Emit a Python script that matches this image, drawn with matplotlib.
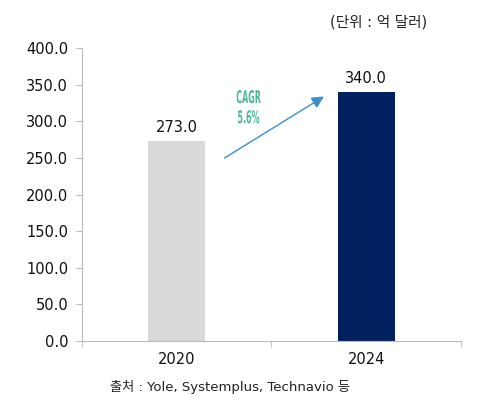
import matplotlib
matplotlib.use("Agg")
import matplotlib.pyplot as plt
import matplotlib.transforms as mtransforms
from matplotlib.textpath import TextPath
from matplotlib.patches import PathPatch
from matplotlib.font_manager import FontProperties

years = ["2020", "2024"]
values = [273.0, 340.0]
bar_colors = ["#D9D9D9", "#002060"]
yticks = [0, 50, 100, 150, 200, 250, 300, 350, 400]
cagr_lines = ["CAGR", "5.6%"]
unit_text = "(단위 : 억 달러)"
source_text = "출처 : Yole, Systemplus, Technavio 등"

plt.rcParams['font.family'] = ['DejaVu Sans', 'Noto Sans CJK KR']

fig = plt.figure(figsize=(4.81, 4.08), dpi=100)
ax = fig.add_axes([0.1705, 0.164, 0.7875, 0.718])

x = range(len(years))
ax.bar(x, values, width=0.3, color=bar_colors)
for i, v in zip(x, values):
    ax.text(i, v + 8, "%.1f" % v, ha="center", va="bottom", fontsize=10.5, color="#111111")

ax.set_xlim(-0.5, 1.5)
ax.set_ylim(0, 400)
ax.set_yticks(yticks)
ax.set_yticklabels(["%.1f" % t for t in yticks], fontsize=10.5, color="#111111")
ax.set_xticks(list(x))
ax.set_xticklabels(years, fontsize=10.5, color="#111111")
ax.set_xticks([-0.5, 0.5, 1.5], minor=True)
ax.tick_params(axis="x", which="major", length=0, pad=8)
ax.tick_params(axis="x", which="minor", length=4, color="#BBBBBB", direction="out")
ax.tick_params(axis="y", length=4, color="#BBBBBB", pad=6)
for s in ["top", "right"]:
    ax.spines[s].set_visible(False)
ax.spines["left"].set_color("#BBBBBB")
ax.spines["bottom"].set_color("#BBBBBB")

ax.annotate("", xy=(0.79, 336), xytext=(0.24, 248),
            arrowprops=dict(arrowstyle="-|>", color="#3A8FCF", lw=1.0, mutation_scale=18))

# condensed CAGR label (no narrow font installed, so squeeze a text path)
prop = FontProperties(family="DejaVu Sans", weight="bold")
sx = 0.5
for k, line in enumerate(cagr_lines):
    tp = TextPath((0, 0), line, size=11.5, prop=prop)
    bb = tp.get_extents()
    yy = 325 - k * 27.5
    tr = (mtransforms.Affine2D().translate(-(bb.x0 + bb.x1) / 2, 0).scale(sx / 72.0, 1.1 / 72.0)
          + fig.dpi_scale_trans
          + mtransforms.ScaledTranslation(0.38, yy, ax.transData))
    ax.add_patch(PathPatch(tp, transform=tr, color="#4DB892", lw=0))

fig.text(0.786, 0.945, unit_text, ha="center", va="center", fontsize=10.5, color="#222222")
fig.text(0.478, 0.052, source_text, ha="center", va="center", fontsize=9.5, color="#222222")

fig.savefig("out.png", dpi=100)
